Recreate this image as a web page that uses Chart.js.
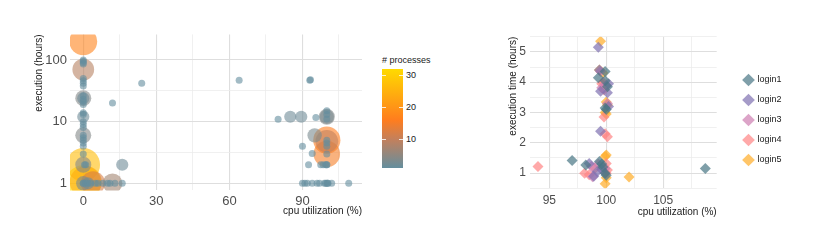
<!DOCTYPE html>
<html>
<head>
<meta charset="utf-8">
<script src="https://cdn.jsdelivr.net/npm/chart.js@4/dist/chart.umd.min.js"></script>
<style>
  body { margin: 0; background: #fff; font-family: "Liberation Sans", Arial, sans-serif; }
  #wrap { position: relative; width: 830px; height: 249px; }
  canvas { position: absolute; top: 0; }
  #leftChart { left: 0; }
  #rightChart { left: 450px; }
  #cbTitle { position: absolute; left: 382px; top: 55px; font-size: 9px; color: #1a1a1a; white-space: nowrap; }
  #cbBar { position: absolute; left: 382px; top: 69px; width: 21px; height: 99px; }
  .cbTick { position: absolute; width: 4px; height: 1px; background: rgba(255,255,255,0.8); }
  .cbLabel { position: absolute; left: 406px; font-size: 9px; color: #1a1a1a; line-height: 10px; }
</style>
</head>
<body>
<div id="wrap">
  <canvas id="leftChart" width="380" height="249"></canvas>
  <div id="cbTitle"># processes</div>
  <div id="cbBar"></div>
  <canvas id="rightChart" width="380" height="249"></canvas>
</div>
<script>
// ---- left panel: jobs (cpu %, hours, number of processes) ----
const cpuUtil = [0, 0, 0, 0, 0, 0, 0, 0, 1, 4, 12, 16, 85, 89.5, 100, 100, 95, 100, 100, 100, 0, 0, 2,
  0, 0, 0, 0, 0, 0, 0, 0, 0, 0, 0, 0, 0, 0, 0, 0, 0, 0, 0, 0, 0, 0, 0, 0.5, 1, 0, 0,
  1, 2, 3, 5, 6, 8, 10, 11, 13, 16,
  12, 24, 64, 93, 93.3,
  80, 95.5, 100, 100, 100,
  100, 100, 100, 100, 90, 94,
  92.5, 97.5, 98.5, 99.5, 100, 100,
  90, 91, 92, 94, 96, 97, 99, 99.5, 100, 100.3, 100.5, 102, 109];
const execHours = [200, 70, 24, 12, 6, 2, 2, 1, 1.05, 1, 1, 2, 12, 12, 12, 12, 6, 5, 4.8, 3, 24, 1, 1,
  100, 95, 90, 86, 50, 46, 42, 38, 26, 23, 21, 19, 14, 13, 10, 9, 8, 6, 5.5, 5, 4.5, 4, 3, 2, 2, 1, 1,
  1, 1, 1, 1, 1, 1, 1, 1, 1, 1,
  20, 42, 47, 47, 48,
  10.9, 11.7, 15, 11, 13,
  5, 4.5, 4, 3, 4, 3.05,
  2, 2, 2, 2, 2, 2,
  1, 1, 1, 1, 1, 1, 1, 1, 1, 1, 1, 1, 1];
const nProcs = [17, 9, 4, 2, 4, 27, 4, 32, 24, 12, 7, 2, 2, 2, 4, 3, 3, 16, 10, 15, 2, 3, 2,
  1, 1, 1, 1, 1, 1, 1, 1, 1, 1, 1, 1, 1, 1, 1, 1, 1, 1, 1, 1, 1, 1, 1, 1, 1, 1, 1,
  1, 1, 1, 1, 1, 1, 1, 1, 1, 1,
  1, 1, 1, 1, 1,
  1, 1, 1, 1, 1,
  1, 1, 1, 1, 1, 1,
  1, 1, 1, 1, 1, 1,
  1, 1, 1, 1, 1, 1, 1, 1, 1, 1, 1, 1, 1];

const leftXTicks = [0, 15, 30, 45, 60, 75, 90, 105];
const leftXLabels = [0, 30, 60, 90];
const leftYTicks = [1, 3.162, 10, 31.62, 100];
const leftYLabels = [1, 10, 100];
const procBarLabels = [10, 20, 30];

// ---- right panel: cpu % vs hours per login node ----
const loginNames = ['login1', 'login2', 'login3', 'login4', 'login5'];
const login1Cpu   = [97.0, 98.2, 99.4, 99.6, 99.9, 100.0, 99.7, 108.7, 99.3, 99.9, 99.9, 100.1, 99.9, 100.0];
const login1Hours = [1.42, 1.27, 1.38, 1.30, 1.00, 0.93, 1.20, 1.15, 4.15, 4.35, 4.05, 3.85, 3.15, 3.10];
const login2Cpu   = [99.3, 99.4, 99.5, 100.1, 100.2, 99.5, 98.5, 99.2, 99.6, 98.9, 100.2];
const login2Hours = [5.15, 4.40, 3.70, 3.65, 3.20, 2.38, 1.32, 1.05, 1.12, 0.90, 3.95];
const login3Cpu   = [99.5, 99.6, 100.0, 98.7, 98.8, 99.9, 99.3, 100.1];
const login3Hours = [4.35, 3.82, 3.90, 1.22, 0.88, 1.15, 1.30, 3.30];
const login4Cpu   = [99.6, 99.8, 99.8, 99.9, 100.1, 94.0, 98.1, 98.5, 100.0, 100.1, 99.0, 100.0, 99.7];
const login4Hours = [3.95, 3.75, 2.85, 2.30, 2.20, 1.22, 1.00, 0.95, 1.32, 1.10, 1.15, 1.00, 4.00];
const login5Cpu   = [99.5, 99.7, 100.0, 100.1, 99.9, 100.0, 100.0, 99.9, 102.0, 99.9, 100.0, 99.4];
const login5Hours = [5.35, 4.30, 3.35, 3.25, 3.00, 2.95, 1.60, 1.55, 0.87, 0.65, 0.85, 4.40];

const rightXTicks = [95, 97.5, 100, 102.5, 105, 107.5];
const rightXLabels = [95, 100, 105];
const rightYTicks = [0.5, 1, 1.5, 2, 2.5, 3, 3.5, 4, 4.5, 5, 5.5];
const rightYLabels = [1, 2, 3, 4, 5];

// ---- styling ----
const FONT = '"Liberation Sans", Arial, sans-serif';
const procStops = [1, 10, 16, 32];
const procRGB = [[100, 142, 158], [195, 128, 92], [255, 125, 30], [255, 218, 0]];
const loginRGB = [[72, 118, 133], [127, 112, 176], [205, 126, 177], [255, 133, 133], [255, 172, 40]];

function procColor(v, a) {
    let i = 0;
    while (i < procStops.length - 2 && v > procStops[i + 1]) i++;
    const t = Math.max(0, Math.min(1, (v - procStops[i]) / (procStops[i + 1] - procStops[i])));
    const c = procRGB[i].map((c0, k) => Math.round(c0 + (procRGB[i + 1][k] - c0) * t));
    return `rgba(${c[0]},${c[1]},${c[2]},${a})`;
}

function procRadius(v) {
    // area scale like ggplot scale_size
    return 3.5 + 14.5 * Math.sqrt((v - 1) / 31);
}

function gridStyle(labels) {
    return {
        color: ctx => labels.includes(ctx.tick.value) ? '#dedede' : '#ececec',
        lineWidth: ctx => labels.includes(ctx.tick.value) ? 1.1 : 0.8,
        drawTicks: false
    };
}

document.addEventListener('DOMContentLoaded', function() {
    initLeftChart();
    initColorBar();
    initRightChart();
});

function initLeftChart() {
    const order = nProcs.map((p, i) => i).sort((a, b) => nProcs[b] - nProcs[a]);
    const points = order.map(i => ({ x: cpuUtil[i], y: execHours[i], p: nProcs[i] }));

    new Chart(document.getElementById('leftChart'), {
        type: 'scatter',
        data: {
            datasets: [{
                data: points,
                pointRadius: ctx => procRadius(ctx.raw.p),
                pointHoverRadius: ctx => procRadius(ctx.raw.p),
                backgroundColor: ctx => procColor(ctx.raw.p, 0.6),
                borderWidth: 0,
                clip: 0
            }]
        },
        options: {
            responsive: false,
            animation: false,
            events: [],
            layout: { padding: { left: 0, top: 34.4, right: 17.3, bottom: 31.3 } },
            plugins: { legend: { display: false }, tooltip: { enabled: false } },
            scales: {
                x: {
                    type: 'linear',
                    min: -5.45,
                    max: 114.45,
                    afterBuildTicks: s => { s.ticks = leftXTicks.map(v => ({ value: v })); },
                    afterFit: s => { s.height = 27.3; },
                    ticks: {
                        autoSkip: false, maxRotation: 0, padding: 3,
                        color: '#4d4d4d', font: { family: FONT, size: 13 },
                        callback: v => leftXLabels.includes(v) ? String(v) : ''
                    },
                    grid: gridStyle(leftXLabels),
                    border: { display: false },
                    title: {
                        display: true, text: 'cpu utilization (%)', align: 'end',
                        color: '#1a1a1a', font: { family: FONT, size: 10 },
                        padding: { top: 0, bottom: 0 }
                    }
                },
                y: {
                    type: 'logarithmic',
                    min: 0.767,
                    max: 260,
                    afterBuildTicks: s => { s.ticks = leftYTicks.map(v => ({ value: v })); },
                    afterFit: s => { s.width = 70; },
                    ticks: {
                        autoSkip: false, padding: 3,
                        color: '#4d4d4d', font: { family: FONT, size: 13 },
                        callback: v => leftYLabels.includes(v) ? String(v) : ''
                    },
                    grid: gridStyle(leftYLabels),
                    border: { display: false },
                    title: {
                        display: true, text: 'execution (hours)', align: 'end',
                        color: '#1a1a1a', font: { family: FONT, size: 10 },
                        padding: { top: 33, bottom: 0 }
                    }
                }
            }
        }
    });
}

function initColorBar() {
    const bar = document.getElementById('cbBar');
    const lo = procStops[0], hi = procStops[procStops.length - 1];
    const stops = procStops.map((v, i) => {
        const c = procRGB[i];
        return `rgb(${c[0]},${c[1]},${c[2]}) ${((v - lo) / (hi - lo) * 100).toFixed(1)}%`;
    });
    bar.style.background = `linear-gradient(to top, ${stops.join(', ')})`;

    const wrap = document.getElementById('wrap');
    procBarLabels.forEach(v => {
        const y = 69 + 99 * (1 - (v - lo) / (hi - lo));
        [382, 399].forEach(x => {
            const t = document.createElement('div');
            t.className = 'cbTick';
            t.style.left = x + 'px';
            t.style.top = Math.round(y) + 'px';
            wrap.appendChild(t);
        });
        const l = document.createElement('div');
        l.className = 'cbLabel';
        l.textContent = v;
        l.style.top = (y - 5) + 'px';
        wrap.appendChild(l);
    });
}

function initRightChart() {
    const cpus = [login1Cpu, login2Cpu, login3Cpu, login4Cpu, login5Cpu];
    const hours = [login1Hours, login2Hours, login3Hours, login4Hours, login5Hours];

    const datasets = loginNames.map((name, k) => {
        const c = loginRGB[k];
        const col = `rgba(${c[0]},${c[1]},${c[2]},0.7)`;
        return {
            label: name,
            data: cpus[k].map((x, i) => ({ x: x, y: hours[k][i] })),
            pointStyle: 'rectRot',
            pointRadius: 5.5,
            pointHoverRadius: 5.5,
            backgroundColor: col,
            borderColor: col,
            borderWidth: 0
        };
    });

    // place the legend to the right of the panel, like the reference
    const legendSpot = {
        id: 'legendSpot',
        afterLayout(chart) {
            const lg = chart.legend;
            if (!lg) return;
            const w = lg.width, h = lg.height;
            lg.left = 283; lg.top = 64.5;
            lg.right = lg.left + w; lg.bottom = lg.top + h;
        }
    };

    new Chart(document.getElementById('rightChart'), {
        type: 'scatter',
        data: { datasets: datasets },
        plugins: [legendSpot],
        options: {
            responsive: false,
            animation: false,
            events: [],
            layout: { padding: { left: 0, top: 36.7, right: 113.3, bottom: 31 } },
            plugins: {
                tooltip: { enabled: false },
                legend: {
                    position: 'chartArea',
                    align: 'start',
                    labels: {
                        usePointStyle: true,
                        padding: 11,
                        color: '#1a1a1a',
                        font: { family: FONT, size: 9 }
                    }
                }
            },
            scales: {
                x: {
                    type: 'linear',
                    min: 93.3,
                    max: 109.7,
                    afterBuildTicks: s => { s.ticks = rightXTicks.map(v => ({ value: v })); },
                    afterFit: s => { s.height = 29.7; },
                    ticks: {
                        autoSkip: false, maxRotation: 0, padding: 5,
                        color: '#4d4d4d', font: { family: FONT, size: 12 },
                        callback: v => rightXLabels.includes(v) ? String(v) : ''
                    },
                    grid: gridStyle(rightXLabels),
                    border: { display: false },
                    title: {
                        display: true, text: 'cpu utilization (%)', align: 'end',
                        color: '#1a1a1a', font: { family: FONT, size: 10 },
                        padding: { top: 0, bottom: 0 }
                    }
                },
                y: {
                    type: 'linear',
                    min: 0.5,
                    max: 5.5,
                    afterBuildTicks: s => { s.ticks = rightYTicks.map(v => ({ value: v })); },
                    afterFit: s => { s.width = 80; },
                    ticks: {
                        autoSkip: false, padding: 4,
                        color: '#4d4d4d', font: { family: FONT, size: 12 },
                        callback: v => rightYLabels.includes(v) ? String(v) : ''
                    },
                    grid: gridStyle(rightYLabels),
                    border: { display: false },
                    title: {
                        display: true, text: 'execution time (hours)', align: 'end',
                        color: '#1a1a1a', font: { family: FONT, size: 10 },
                        padding: { top: 57, bottom: 0 }
                    }
                }
            }
        }
    });
}
</script>
</body>
</html>
